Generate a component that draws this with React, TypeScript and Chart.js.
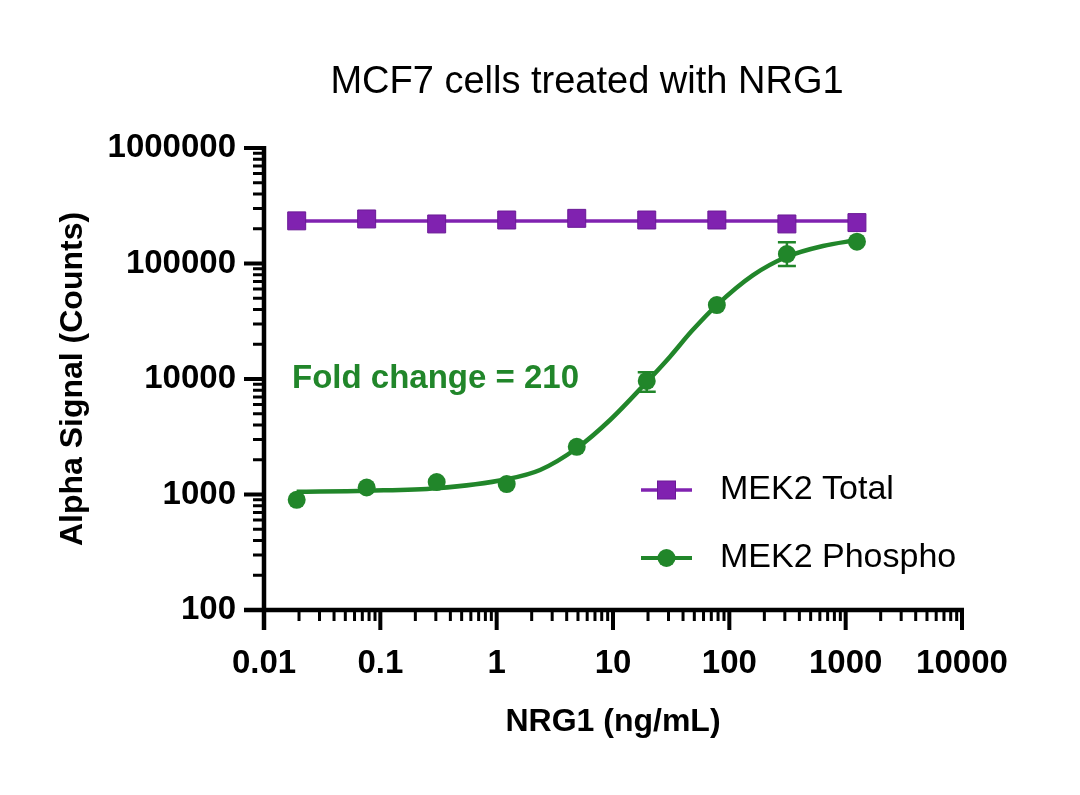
import React, { useEffect, useRef } from "react";
import { Chart, registerables } from "chart.js";

Chart.register(...registerables);

// ---- data ----
const doses = [0.0191, 0.0763, 0.305, 1.22, 4.88, 19.5, 78.1, 312.5, 1250];
const totalSignal = [234000, 243000, 220000, 238000, 246000, 238000, 238000, 220000, 226000];
const phosphoSignal = [900, 1150, 1280, 1230, 2590, 9620, 43700, 120800, 154500];
const phosphoErrLow = [null, null, null, null, null, 7760, null, 95000, null];
const phosphoErrHigh = [null, null, null, null, null, 11430, null, 152700, null];
const totalFitDoses = [0.0191, 1250];
const totalFitLevels = [233000, 233000];
const phosphoFitDoses = [0.0191, 0.0763, 0.305, 1.22, 2.36, 4.88, 9.43, 19.5, 30.9, 47.5, 78.1, 160, 312.5, 638, 1250];
const phosphoFitSignal = [1057, 1079, 1132, 1355, 1629, 2513, 4416, 9420, 15600, 26000, 43700, 79400, 114500, 141900, 159600];
const xTickValues = [0.01, 0.1, 1, 10, 100, 1000, 10000];
const yTickValues = [100, 1000, 10000, 100000, 1000000];

const titleText = "MCF7 cells treated with NRG1";
const xTitle = "NRG1 (ng/mL)";
const yTitle = "Alpha Signal (Counts)";
const seriesNames = ["MEK2 Total", "MEK2 Phospho"];
const annotationText = "Fold change = 210";
const annotationAt = { x: 0.0174, y: 10000 };

const PURPLE = "#8022b0";
const PURPLE_DARK = "#6a1a96";
const GREEN = "#21862a";
const FONT = "'Liberation Sans', Arial, Helvetica, sans-serif";

const zip = (xs: number[], ys: number[]) => xs.map((x, i) => ({ x, y: ys[i] }));

const minorOf = (majors: number[]) => {
  const out: number[] = [];
  for (let i = 0; i < majors.length - 1; i++) {
    for (let m = 2; m <= 9; m++) out.push(majors[i] * m);
  }
  return out;
};

const decorPlugin = {
  id: "decor",
  beforeDatasetsDraw(chart: any) {
    const { ctx, scales } = chart;
    const xs = scales.x, ys = scales.y;
    ctx.save();
    ctx.strokeStyle = GREEN;
    ctx.lineWidth = 2.5;
    doses.forEach((d, i) => {
      const lo = phosphoErrLow[i], hi = phosphoErrHigh[i];
      if (lo == null || hi == null) return;
      const px = xs.getPixelForValue(d);
      const pl = ys.getPixelForValue(lo);
      const ph = ys.getPixelForValue(hi);
      ctx.beginPath();
      ctx.moveTo(px, pl); ctx.lineTo(px, ph);
      ctx.moveTo(px - 9, pl); ctx.lineTo(px + 9, pl);
      ctx.moveTo(px - 9, ph); ctx.lineTo(px + 9, ph);
      ctx.stroke();
    });
    ctx.restore();
  },
  afterDraw(chart: any) {
    const { ctx, scales, chartArea } = chart;
    const xs = scales.x, ys = scales.y;
    const L = chartArea.left, B = chartArea.bottom, T = chartArea.top, R = chartArea.right;
    ctx.save();
    ctx.strokeStyle = "#000";
    ctx.lineCap = "butt";
    ctx.lineWidth = 4.5;
    ctx.beginPath();
    ctx.moveTo(L, T - 2); ctx.lineTo(L, B + 20);
    ctx.moveTo(L - 20, B); ctx.lineTo(R + 2, B);
    ctx.stroke();
    ctx.lineWidth = 4;
    ctx.beginPath();
    xTickValues.forEach((v) => {
      const p = xs.getPixelForValue(v);
      ctx.moveTo(p, B); ctx.lineTo(p, B + 20);
    });
    yTickValues.forEach((v) => {
      const p = ys.getPixelForValue(v);
      ctx.moveTo(L, p); ctx.lineTo(L - 20, p);
    });
    ctx.stroke();
    ctx.lineWidth = 3;
    ctx.beginPath();
    minorOf(xTickValues).forEach((v) => {
      const p = xs.getPixelForValue(v);
      ctx.moveTo(p, B); ctx.lineTo(p, B + 11);
    });
    minorOf(yTickValues).forEach((v) => {
      const p = ys.getPixelForValue(v);
      ctx.moveTo(L, p); ctx.lineTo(L - 11, p);
    });
    ctx.stroke();

    // title
    ctx.fillStyle = "#000";
    ctx.font = `38px ${FONT}`;
    ctx.textAlign = "center";
    ctx.textBaseline = "middle";
    ctx.fillText(titleText, L + 323, T - 65);

    // annotation
    ctx.fillStyle = GREEN;
    ctx.font = `bold 33px ${FONT}`;
    ctx.textAlign = "left";
    ctx.fillText(annotationText, xs.getPixelForValue(annotationAt.x), ys.getPixelForValue(annotationAt.y));

    // legend
    const lx = L + 377, lTextX = L + 456;
    const rows = [B - 120, B - 52];
    ctx.strokeStyle = PURPLE;
    ctx.lineWidth = 3.5;
    ctx.beginPath();
    ctx.moveTo(lx, rows[0]); ctx.lineTo(lx + 51, rows[0]);
    ctx.stroke();
    ctx.fillStyle = PURPLE;
    ctx.fillRect(lx + 25.5 - 9, rows[0] - 9, 18, 18);
    ctx.strokeStyle = PURPLE_DARK;
    ctx.lineWidth = 1;
    ctx.strokeRect(lx + 25.5 - 9, rows[0] - 9, 18, 18);
    ctx.strokeStyle = GREEN;
    ctx.lineWidth = 4;
    ctx.beginPath();
    ctx.moveTo(lx, rows[1]); ctx.lineTo(lx + 51, rows[1]);
    ctx.stroke();
    ctx.fillStyle = GREEN;
    ctx.beginPath();
    ctx.arc(lx + 25.5, rows[1], 9, 0, Math.PI * 2);
    ctx.fill();
    ctx.fillStyle = "#000";
    ctx.font = `34px ${FONT}`;
    ctx.textAlign = "left";
    ctx.fillText(seriesNames[0], lTextX, rows[0]);
    ctx.fillText(seriesNames[1], lTextX, rows[1]);
    ctx.restore();
  },
};

export default function App() {
  const ref = useRef<HTMLCanvasElement | null>(null);
  useEffect(() => {
    if (!ref.current) return;
    Chart.defaults.font.family = FONT;
    const chart = new Chart(ref.current, {
      type: "scatter",
      data: {
        datasets: [
          {
            label: seriesNames[1] + " points",
            data: zip(doses, phosphoSignal),
            showLine: false,
            pointStyle: "circle",
            pointRadius: 9,
            backgroundColor: GREEN,
            borderColor: GREEN,
            borderWidth: 0,
            order: 0,
          },
          {
            label: seriesNames[0] + " points",
            data: zip(doses, totalSignal),
            showLine: false,
            pointStyle: "rect",
            pointRadius: 12.7,
            backgroundColor: PURPLE,
            borderColor: PURPLE_DARK,
            borderWidth: 1,
            order: 1,
          },
          {
            label: seriesNames[1] + " fit",
            data: zip(phosphoFitDoses, phosphoFitSignal),
            showLine: true,
            pointRadius: 0,
            borderColor: GREEN,
            borderWidth: 4.5,
            cubicInterpolationMode: "monotone",
            order: 2,
          },
          {
            label: seriesNames[0] + " fit",
            data: zip(totalFitDoses, totalFitLevels),
            showLine: true,
            pointRadius: 0,
            borderColor: PURPLE,
            borderWidth: 3.5,
            order: 3,
          },
        ],
      },
      options: {
        responsive: false,
        animation: false,
        events: [],
        layout: { padding: { top: 148, right: 118, left: 0, bottom: 0 } },
        plugins: { legend: { display: false }, tooltip: { enabled: false }, title: { display: false } },
        scales: {
          x: {
            type: "logarithmic",
            min: 0.01,
            max: 10000,
            afterFit: (s: any) => { s.height = 185; },
            afterBuildTicks: (s: any) => { s.ticks = xTickValues.map((v) => ({ value: v })); },
            border: { display: false },
            grid: { display: true, color: "rgba(0,0,0,0)", drawOnChartArea: false, drawTicks: true, tickLength: 20 },
            ticks: {
              color: "#000",
              padding: 14,
              maxRotation: 0,
              autoSkip: false,
              font: { size: 33, weight: "bold", family: FONT },
              callback: (v: any) => String(v),
            },
            title: {
              display: true,
              text: xTitle,
              color: "#000",
              font: { size: 32, weight: "bold", family: FONT },
              padding: { top: 0, bottom: 54 },
            },
          },
          y: {
            type: "logarithmic",
            min: 100,
            max: 1000000,
            afterFit: (s: any) => { s.width = 264; },
            afterBuildTicks: (s: any) => { s.ticks = yTickValues.map((v) => ({ value: v })); },
            border: { display: false },
            grid: { display: true, color: "rgba(0,0,0,0)", drawOnChartArea: false, drawTicks: true, tickLength: 16 },
            ticks: {
              color: "#000",
              padding: 12,
              autoSkip: false,
              font: { size: 33, weight: "bold", family: FONT },
              callback: (v: any) => String(v),
            },
            title: {
              display: true,
              text: yTitle,
              color: "#000",
              font: { size: 32, weight: "bold", family: FONT },
              padding: { top: 54, bottom: 0 },
            },
          },
        },
      },
      plugins: [decorPlugin],
    } as any);
    return () => chart.destroy();
  }, []);
  return (
    <div style={{ position: "absolute", left: 0, top: 0, width: 1080, height: 795, background: "#fff" }}>
      <canvas ref={ref} width={1080} height={795} style={{ display: "block" }} />
    </div>
  );
}
